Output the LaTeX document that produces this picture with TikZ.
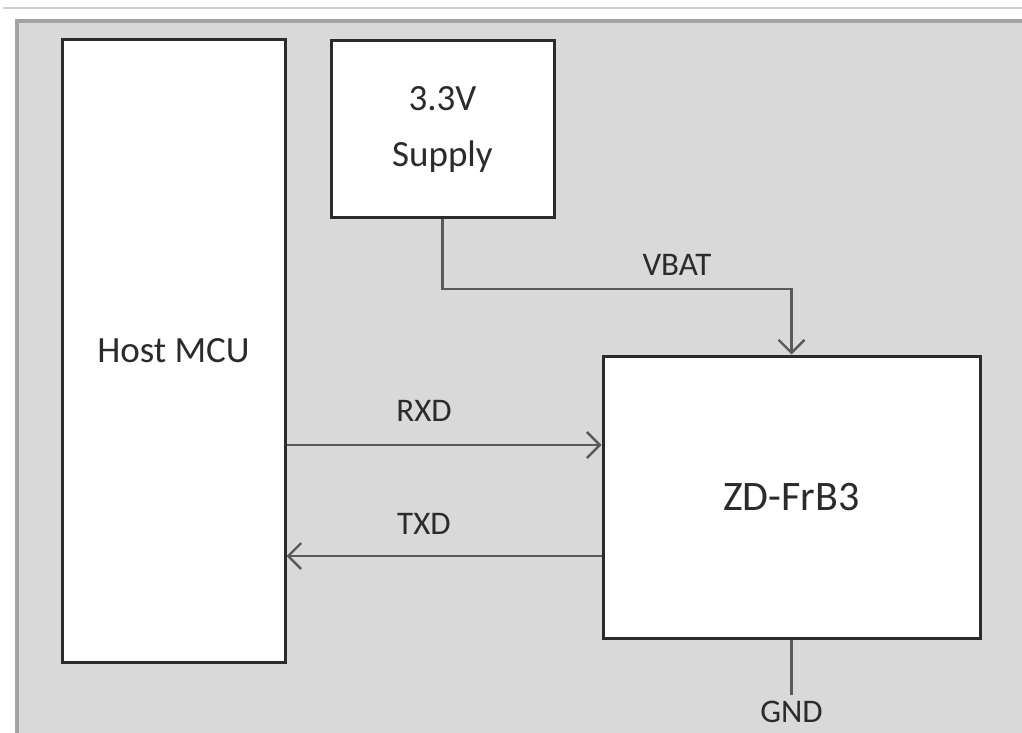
\documentclass[tikz,border=0pt]{standalone}
\usepackage{fontspec}
\setmainfont{Carlito}
\usetikzlibrary{arrows.meta,positioning,calc}
\definecolor{panel}{HTML}{D9D9D9}
\definecolor{rim}{HTML}{A3A3A3}
\definecolor{topline}{HTML}{CFCBDA}
\definecolor{ink}{HTML}{2B2B2B}
\definecolor{wire}{HTML}{5A5A5A}
\tikzset{
  block/.style={draw=ink, line width=3pt, fill=white, align=center, text=ink, font=\fontsize{37}{56}\selectfont},
  sig/.style={draw=wire, line width=2.4pt, -{Straight Barb[length=13pt,width=26pt,line width=2.4pt]}},
  plain/.style={draw=wire, line width=2.4pt},
  lbl/.style={text=ink, font=\fontsize{33}{40}\selectfont, inner sep=0pt},
}

\begin{document}
\begin{tikzpicture}[x=1pt,y=-1pt]
  \useasboundingbox (0,0) rectangle (1022,733);
  % page frame
  \fill[white] (0,0) rectangle (1022,733);
  \draw[topline, line width=2pt] (3,8) -- (1022,8);
  \fill[panel] (15,19) rectangle (1022,733);
  \draw[rim, line width=4pt] (17,733) -- (17,21) -- (1022,21);
  % blocks
  \node[block, minimum width=223pt, minimum height=622pt] (mcu) at (173.5,351) {Host MCU};
  \node[block, minimum width=223pt, minimum height=176pt] (supply) at (442.5,129) {3.3V\\Supply};
  \node[block, minimum width=377pt, minimum height=282pt, font=\fontsize{42}{50}\selectfont] (zd) at (791.5,497) {ZD-FrB3};
  % signal rows
  \coordinate (bend) at (791.5,289);
  \coordinate (rx) at (0,445);
  \coordinate (tx) at (0,556);
  \draw[sig] (supply.south) |- (bend) -- (zd.north);
  \draw[sig] (mcu.east |- rx) -- (zd.west |- rx);
  \draw[sig] (zd.west |- tx) -- (mcu.east |- tx);
  \draw[plain] (zd.south) -- ++(0,55) coordinate (gndend);
  % labels
  \node[lbl] (vbat) at (677,265) {VBAT};
  \node[lbl] (rxd) at (424,411) {RXD};
  \node[lbl] (txd) at (424,524) {TXD};
  \node[lbl, below=6pt of gndend] (gnd) {GND};
\end{tikzpicture}
\end{document}
